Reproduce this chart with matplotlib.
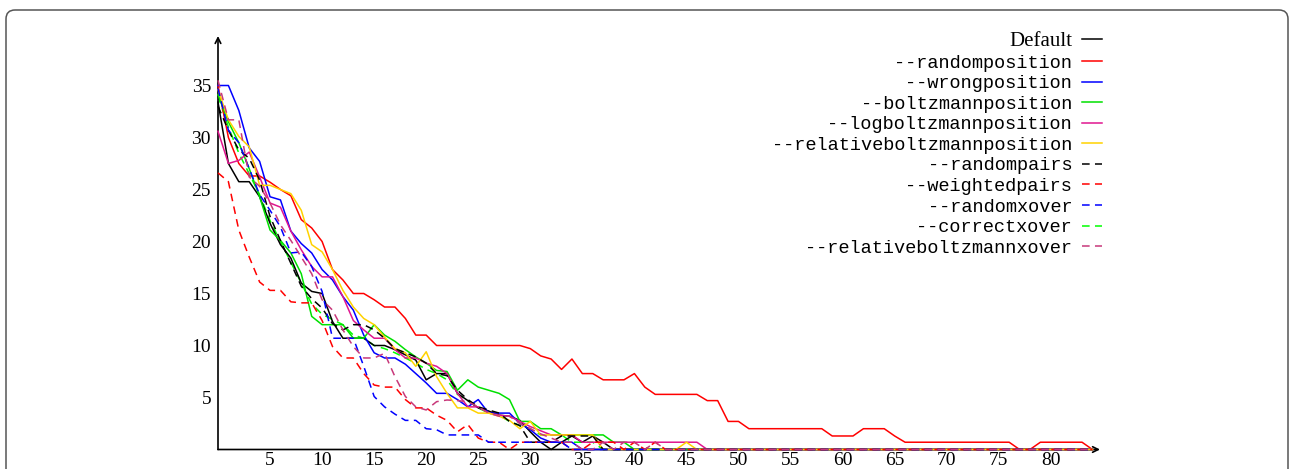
import numpy as np
import matplotlib.pyplot as plt
from matplotlib.patches import FancyBboxPatch
from matplotlib.transforms import IdentityTransform

N = 85
x = np.arange(N)


def pad(vals):
    return np.array(vals + [0.0] * (N - len(vals)))


default = pad([33.4, 27.5, 25.75, 25.75, 24.3, 21.75, 19.7, 18.4, 16.0, 15.2, 15.0, 12.3,
               10.7, 10.7, 10.7, 10.0, 10.0, 9.6, 9.1, 8.6, 6.7, 7.3, 7.3, 5.4, 4.7, 4.0,
               3.7, 3.3, 3.2, 2.8, 1.7, 0.7, 0.0, 0.7, 1.3, 0.7, 1.3, 0.7])
randomposition = pad([35.0, 30.0, 27.5, 26.3, 26.3, 25.7, 25.0, 24.4, 22.1, 21.3, 20.0, 17.3,
                      16.3, 15.0, 15.0, 14.4, 13.7, 13.7, 12.6, 11.0, 11.0, 10.0, 10.0, 10.0,
                      10.0, 10.0, 10.0, 10.0, 10.0, 10.0, 9.7, 9.0, 8.7, 7.7, 8.7, 7.3, 7.3,
                      6.7, 6.7, 6.7, 7.3, 6.0, 5.3, 5.3, 5.3, 5.3, 5.3, 4.7, 4.7, 2.7, 2.7,
                      2.0, 2.0, 2.0, 2.0, 2.0, 2.0, 2.0, 2.0, 1.3, 1.3, 1.3, 2.0, 2.0, 2.0,
                      1.3, 0.7, 0.7, 0.7, 0.7, 0.7, 0.7, 0.7, 0.7, 0.7, 0.7, 0.7, 0.0, 0.0,
                      0.7, 0.7, 0.7, 0.7, 0.7, 0.0])
wrongposition = pad([35.0, 35.0, 32.6, 29.0, 27.7, 24.3, 24.0, 21.0, 19.8, 18.9, 17.3, 16.3,
                     14.7, 13.4, 11.0, 9.3, 8.8, 8.8, 8.2, 7.3, 6.4, 5.4, 5.4, 4.8, 4.1, 4.8,
                     3.5, 3.5, 3.5, 2.5, 1.9, 1.1, 0.7, 0.7, 0.7])
boltzmannposition = pad([34.1, 31.5, 29.5, 27.0, 24.3, 21.1, 20.1, 18.9, 16.9, 12.8, 12.0, 12.0,
                         12.0, 10.7, 10.7, 12.0, 11.0, 10.4, 9.6, 8.9, 8.3, 7.6, 7.5, 5.7, 6.7,
                         6.0, 5.7, 5.4, 4.8, 2.7, 2.7, 2.0, 2.0, 1.4, 1.4, 1.4, 1.4, 1.4, 0.7,
                         0.7])
logboltzmannposition = pad([30.6, 27.5, 27.8, 28.6, 26.2, 23.7, 23.3, 21.0, 19.2, 17.6, 16.6,
                            16.6, 14.7, 12.4, 11.5, 10.7, 10.7, 9.6, 8.8, 8.8, 8.3, 8.0, 7.3,
                            5.4, 4.1, 4.1, 3.5, 3.3, 3.2, 2.7, 2.2, 1.8, 1.4, 1.4, 1.4, 0.7,
                            0.7, 0.7, 0.7, 0.7, 0.7, 0.7, 0.7, 0.7, 0.7, 0.7, 0.7])
relativeboltzmannposition = pad([34.6, 31.7, 30.1, 29.1, 25.4, 25.4, 25.0, 24.6, 23.0, 19.7,
                                 19.0, 17.3, 15.3, 13.7, 12.6, 12.0, 10.8, 9.7, 9.3, 8.0, 9.4,
                                 7.0, 5.4, 4.0, 4.0, 3.5, 3.5, 3.2, 2.8, 2.0, 2.7, 1.4, 1.4,
                                 1.4, 1.4, 1.4, 1.4, 0.0, 0.0, 0.0, 0.0, 0.0, 0.0, 0.0, 0.0,
                                 0.7])
randompairs = pad([33.0, 30.7, 28.8, 28.0, 25.9, 22.4, 20.1, 17.9, 15.7, 14.5, 13.6, 12.1,
                   11.5, 12.0, 12.0, 11.5, 10.7, 9.7, 9.3, 8.9, 8.3, 7.3, 7.1, 5.7, 4.8, 4.1,
                   3.8, 3.5, 2.7, 2.3, 0.7, 0.7, 0.7, 1.3, 1.3, 1.3, 1.3])
weightedpairs = pad([26.6, 25.75, 21.1, 18.5, 16.1, 15.3, 15.3, 14.2, 14.1, 14.1, 12.4, 9.9,
                     8.8, 8.8, 7.3, 6.2, 6.0, 6.0, 4.8, 4.0, 4.0, 3.3, 2.8, 1.7, 2.4, 1.1,
                     0.7, 0.7, 0.0, 0.7, 0.7, 0.7, 0.7, 0.7, 0.0, 0.0, 0.7, 0.7, 0.7, 0.0,
                     0.7, 0.0, 0.7])
randomxover = pad([34.7, 30.7, 29.5, 27.0, 24.5, 23.0, 21.4, 18.9, 19.0, 17.6, 15.2, 10.7,
                   10.7, 10.7, 8.0, 5.1, 4.1, 3.4, 2.8, 2.8, 2.0, 1.9, 1.4, 1.4, 1.4, 1.4,
                   0.7, 0.7, 0.7, 0.7, 0.7, 0.7, 0.7, 0.7])
correctxover = pad([34.0, 31.0, 28.5, 26.5, 24.5, 22.0, 20.0, 18.0, 16.0, 14.0, 13.0, 12.5,
                    12.0, 11.0, 10.7, 10.0, 9.7, 9.3, 8.8, 8.3, 7.7, 7.3, 6.7, 5.3, 4.7, 4.0,
                    3.5, 3.3, 2.7, 2.3, 2.0, 1.4, 1.4, 1.4, 0.7, 0.7, 0.7])
relativeboltzmannxover = pad([35.5, 31.7, 31.7, 26.2, 25.3, 23.7, 21.6, 20.1, 18.5, 16.9, 14.4,
                              13.4, 11.5, 9.9, 8.8, 8.8, 9.25, 7.0, 5.1, 4.1, 3.8, 4.6, 4.76,
                              4.7, 4.6, 4.1, 3.5, 3.2, 3.2, 2.5, 2.0, 1.5, 1.1, 0.7, 0.7, 0.0,
                              0.0, 0.7, 0.0, 0.7, 0.7, 0.0, 0.7])

series = [
    ("Default", default, "#000000", "-"),
    ("--randomposition", randomposition, "#ff0000", "-"),
    ("--wrongposition", wrongposition, "#0000ff", "-"),
    ("--boltzmannposition", boltzmannposition, "#00e000", "-"),
    ("--logboltzmannposition", logboltzmannposition, "#e0168f", "-"),
    ("--relativeboltzmannposition", relativeboltzmannposition, "#ffd200", "-"),
    ("--randompairs", randompairs, "#000000", "--"),
    ("--weightedpairs", weightedpairs, "#ff0000", "--"),
    ("--randomxover", randomxover, "#0000ff", "--"),
    ("--correctxover", correctxover, "#00ff00", "--"),
    ("--relativeboltzmannxover", relativeboltzmannxover, "#c8387a", "--"),
]

W, H = 1289, 469
fig = plt.figure(figsize=(W / 100, H / 100), dpi=100)
x0, x1 = 218, 1100
y0, y1 = 449.5, 36
ax = fig.add_axes([x0 / W, (H - y0) / H, (x1 - x0) / W, (y0 - y1) / H])
ax.set_xlim(0, (x1 - x0) / 10.41)
ax.set_ylim(0, (y0 - y1) / 10.4)

for i, (label, vals, color, ls) in enumerate(series):
    z = 1 if label == "--correctxover" else 2 + i
    kw = dict(dashes=(5, 3.5)) if ls == "--" else {}
    ax.plot(x, vals, color=color, lw=1.1, label=label, clip_on=False, zorder=z, **kw)

for s in ax.spines.values():
    s.set_visible(False)
arrow = dict(arrowstyle="->", lw=1.2, color="black", shrinkA=0, shrinkB=0)
ax.annotate("", xy=(1, 0), xytext=(0, 0), xycoords="axes fraction", arrowprops=arrow, zorder=1)
ax.annotate("", xy=(0, 1), xytext=(0, 0), xycoords="axes fraction", arrowprops=arrow, zorder=1)

ax.set_xticks(np.arange(5, 85, 5))
ax.set_yticks(np.arange(5, 40, 5))
ax.tick_params(length=0, labelsize=14)
ax.tick_params(axis="x", pad=2)
ax.tick_params(axis="y", pad=5)
for t in ax.get_xticklabels() + ax.get_yticklabels():
    t.set_family("Liberation Serif")

leg = ax.legend(loc="upper right", bbox_to_anchor=(1102 / W, 1 - 32 / H),
                bbox_transform=fig.transFigure, frameon=False, markerfirst=False,
                handlelength=1.1, handletextpad=0.5, labelspacing=0.19,
                borderpad=0, borderaxespad=0, prop={"family": "Liberation Mono", "size": 13.4})
leg.get_texts()[0].set_family("Liberation Serif")
leg.get_texts()[0].set_fontsize(15)

border = FancyBboxPatch((6, -20), 1282, H - 10 + 20, boxstyle="round,pad=0,rounding_size=9",
                        transform=IdentityTransform(), fill=False, edgecolor="#555555", lw=1.1)
fig.add_artist(border)

fig.savefig("out.png", dpi=100)
